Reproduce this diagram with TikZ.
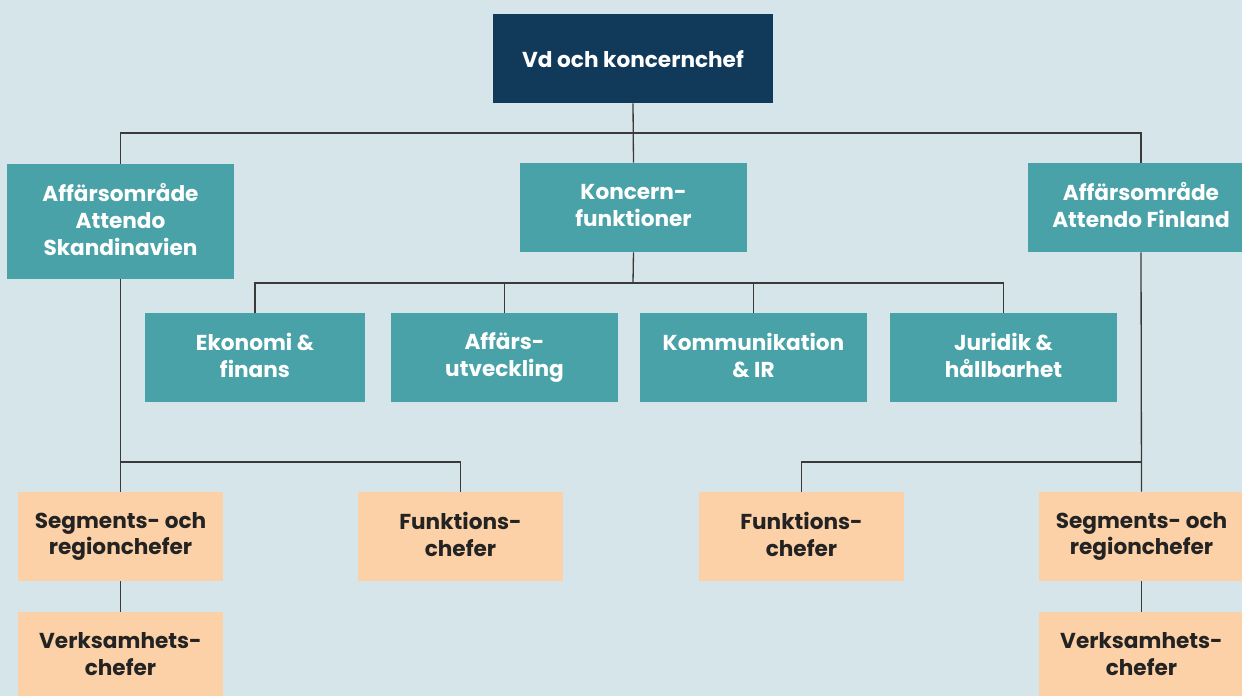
\documentclass[tikz,border=0pt]{standalone}
\usepackage{fontspec}
\setmainfont{Poppins}
\usetikzlibrary{positioning}
\definecolor{bg}{HTML}{D6E5E9}
\definecolor{navy}{HTML}{10395A}
\definecolor{teal}{HTML}{48A2A7}
\definecolor{peach}{HTML}{FDD1A7}
\definecolor{ink}{HTML}{232323}
\definecolor{wire}{HTML}{3A3A3A}
\newcommand{\boxstrut}{\rule[-2.6pt]{0pt}{15.3pt}}

\begin{document}
\begin{tikzpicture}[x=0.02cm, y=-0.02cm,
    box/.style={rectangle, inner sep=0pt, align=center, font=\bfseries\fontsize{12.3}{15.3}\selectfont, minimum height=1.78cm, execute at begin node=\boxstrut, execute at end node=\boxstrut},
    ceo/.style={box, fill=navy, text=white, minimum width=5.6cm},
    unit/.style={box, fill=teal, text=white, minimum width=4.54cm},
    chief/.style={box, fill=peach, text=ink, minimum width=4.1cm},
    wire/.style={draw=wire, line width=0.75pt}]
    \useasboundingbox (0,0) rectangle (1242,696);
    \fill[bg] (0,0) rectangle (1242,696);
    % nivå 1 och 2
    \node[ceo] (vd) at (633,58.5) {Vd och koncernchef};
    \node[unit, minimum height=2.3cm] (skand) at (120.5,221.5) {Affärsområde\\Attendo\\Skandinavien};
    \node[unit] (koncern) at (633.5,207.5) {Koncern-\\funktioner};
    \node[unit] (finl) at (1141,207.5) {Affärsområde\\Attendo Finland};
    % koncernfunktioner
    \node[unit, minimum width=4.4cm] (ekon) at (255,357.5) {Ekonomi \&\\finans};
    \node[unit] (affutv) at (504.5,357.5) {Affärs-\\utveckling};
    \node[unit] (komm) at (753.5,357.5) {Kommunikation\\\& IR};
    \node[unit] (jur) at (1003.5,357.5) {Juridik \&\\hållbarhet};
    % chefer
    \node[chief] (segL) at (120.5,536.5) {Segments- och\\regionchefer};
    \node[chief] (funkL) at (460.5,536.5) {Funktions-\\chefer};
    \node[chief] (funkR) at (801.5,536.5) {Funktions-\\chefer};
    \node[chief] (segR) at (1141.5,536.5) {Segments- och\\regionchefer};
    \node[chief] (verkL) at (120.5,656.5) {Verksamhets-\\chefer};
    \node[chief] (verkR) at (1141.5,656.5) {Verksamhets-\\chefer};
    % linjer
    \coordinate (bus1) at (633,133);
    \coordinate (bus2) at (633,283);
    \coordinate (busL) at (120.5,462);
    \coordinate (busR) at (1141.5,462);
    \draw[wire] (vd.south) -- (koncern.north);
    \draw[wire] (skand.north) |- (bus1) -| (finl.north);
    \draw[wire] (koncern.south) -- (bus2);
    \draw[wire] (ekon.north) |- (bus2) -| (jur.north);
    \draw[wire] (affutv.north) -- (affutv.north |- bus2);
    \draw[wire] (komm.north) -- (komm.north |- bus2);
    \draw[wire] (skand.south) -- (segL.north);
    \draw[wire] (busL) -| (funkL.north);
    \draw[wire] (finl.south) -- (segR.north);
    \draw[wire] (busR) -| (funkR.north);
    \draw[wire] (segL.south) -- (verkL.north);
    \draw[wire] (segR.south) -- (verkR.north);
\end{tikzpicture}
\end{document}
